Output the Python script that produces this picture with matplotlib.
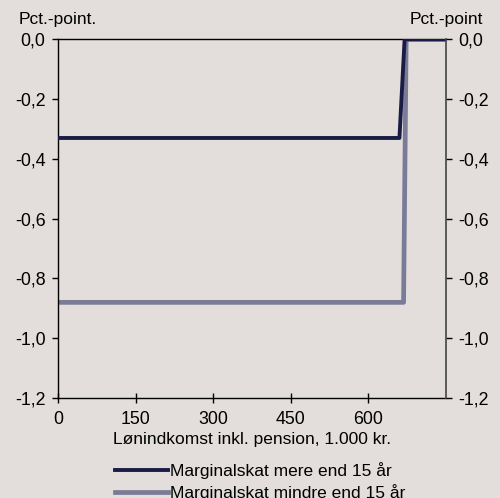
import matplotlib.pyplot as plt
import numpy as np

plt.rcParams['font.family'] = ['Liberation Sans', 'DejaVu Sans']

# Data
income_more = [0, 660, 670, 750]
tax_more = [-0.33, -0.33, 0.0, 0.0]
income_less = [0, 668, 673, 750]
tax_less = [-0.88, -0.88, 0.0, 0.0]

x_ticks = [0, 150, 300, 450, 600]
y_ticks = [0.0, -0.2, -0.4, -0.6, -0.8, -1.0, -1.2]

bg = '#E3DDDB'
col_more = '#1B1C45'
col_less = '#7A7B96'

fig = plt.figure(figsize=(5.0, 4.98), dpi=100, facecolor=bg)
ax = fig.add_axes([0.116, 0.2008, 0.776, 0.7202])
ax.set_facecolor(bg)

l1, = ax.plot(income_more, tax_more, color=col_more, lw=2.8,
              label='Marginalskat mere end 15 år', zorder=3)
l2, = ax.plot(income_less, tax_less, color=col_less, lw=3.4,
              label='Marginalskat mindre end 15 år', zorder=2)

ax.set_xlim(0, 750)
ax.set_ylim(-1.2, 0.0)
ax.set_xticks(x_ticks)
ax.set_xticklabels([str(t) for t in x_ticks], fontsize=12.8)
ax.set_yticks(y_ticks)
ax.set_yticklabels([f'{t:.1f}'.replace('.', ',') for t in y_ticks], fontsize=12.8)
ax.tick_params(axis='x', direction='inout', length=7, width=1, pad=6)
ax.tick_params(axis='y', direction='out', length=4, width=1, pad=5)
ax.set_xlabel('Lønindkomst inkl. pension, 1.000 kr.', fontsize=12.5, labelpad=3)

for s in ['left', 'bottom', 'top']:
    ax.spines[s].set_color('black')
    ax.spines[s].set_linewidth(1)
ax.spines['right'].set_visible(False)

ax2 = ax.twinx()
ax2.set_ylim(-1.2, 0.0)
ax2.set_yticks(y_ticks)
ax2.set_yticklabels([f'{t:.1f}'.replace('.', ',') for t in y_ticks], fontsize=12.8)
ax2.tick_params(axis='y', direction='out', length=4, width=1, pad=5)
for s in ['left', 'bottom', 'top']:
    ax2.spines[s].set_visible(False)
ax2.spines['right'].set_color('#444444')
ax2.spines['right'].set_linewidth(1.2)

fig.text(0.038, 0.946, 'Pct.-point.', fontsize=12.5, ha='left', va='bottom')
fig.text(0.966, 0.946, 'Pct.-point', fontsize=12.5, ha='right', va='bottom')

fig.legend(handles=[l1, l2], loc='upper center', bbox_to_anchor=(0.52, 0.09),
           frameon=False, fontsize=12.5, handlelength=3.1, handletextpad=0.1,
           labelspacing=0.3, borderpad=0)

fig.savefig('out.png', dpi=100, facecolor=bg)
